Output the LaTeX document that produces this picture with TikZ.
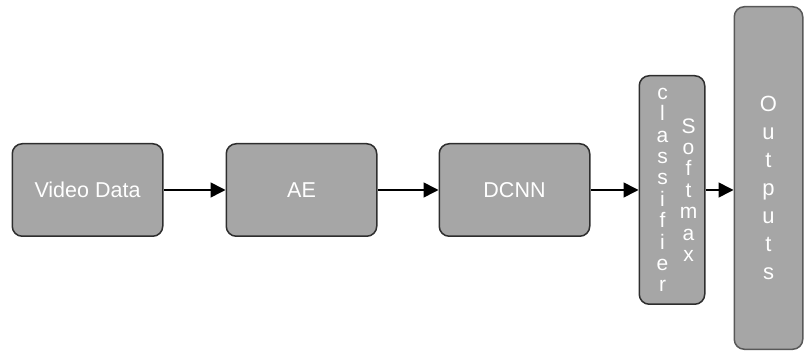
\documentclass[tikz,border=0pt]{standalone}
\usepackage{fontspec}
\setmainfont{Liberation Sans}
\usepackage{xcolor}
\usetikzlibrary{positioning,arrows.meta,calc}
\definecolor{boxgray}{HTML}{A6A6A6}
\definecolor{boxline}{HTML}{2E2E2E}
\tikzset{
  flow/.style={-{Triangle[length=15pt,width=15pt]}, line width=1.6pt, draw=black},
  every node/.style={anchor=center}
}

\begin{document}
\begin{tikzpicture}[
  font=\fontsize{21.5}{24}\selectfont,
  line/.style={flow},
  box/.style={rounded corners=10pt, draw=boxline, fill=boxgray, line width=1.5pt, text=white, minimum width=150.5pt, minimum height=92.5pt, align=center, inner sep=0pt},
  tallbox/.style={box, minimum width=65.5pt, minimum height=228.5pt},
  outbox/.style={box, minimum width=68.5pt, minimum height=342.5pt, draw=boxline!80},
  letters/.style={text=white, align=center, inner sep=0pt}
]
\useasboundingbox (0,0) rectangle (805pt,-352pt);

\node[box] (video) at (87.5pt,-190pt) {Video Data};
\node[box, right=62pt of video] (ae) {AE};
\node[box, right=61pt of ae] (dcnn) {DCNN};
\node[tallbox, right=48pt of dcnn] (cls) {};
\node[outbox, right=28pt of cls, yshift=12pt] (outs) {};

\node[letters, font=\fontsize{21}{21.4}\selectfont] (clsword) at ([xshift=-9.5pt]cls.center) {c\\l\\a\\s\\s\\i\\f\\i\\e\\r};
\node[letters, font=\fontsize{21}{21.4}\selectfont] (smword) at ([xshift=16.5pt]cls.center) {S\\o\\f\\t\\m\\a\\x};
\node[letters, font=\fontsize{22}{28}\selectfont] (outword) at ([yshift=-10pt]outs.center) {O\\u\\t\\p\\u\\t\\s};

\draw[line] (video.east) -- (ae.west);
\draw[line] (ae.east) -- (dcnn.west);
\draw[line] (dcnn.east) -- (cls.west);
\draw[line] (cls.east) -- (cls.east -| outs.west);
\end{tikzpicture}
\end{document}
